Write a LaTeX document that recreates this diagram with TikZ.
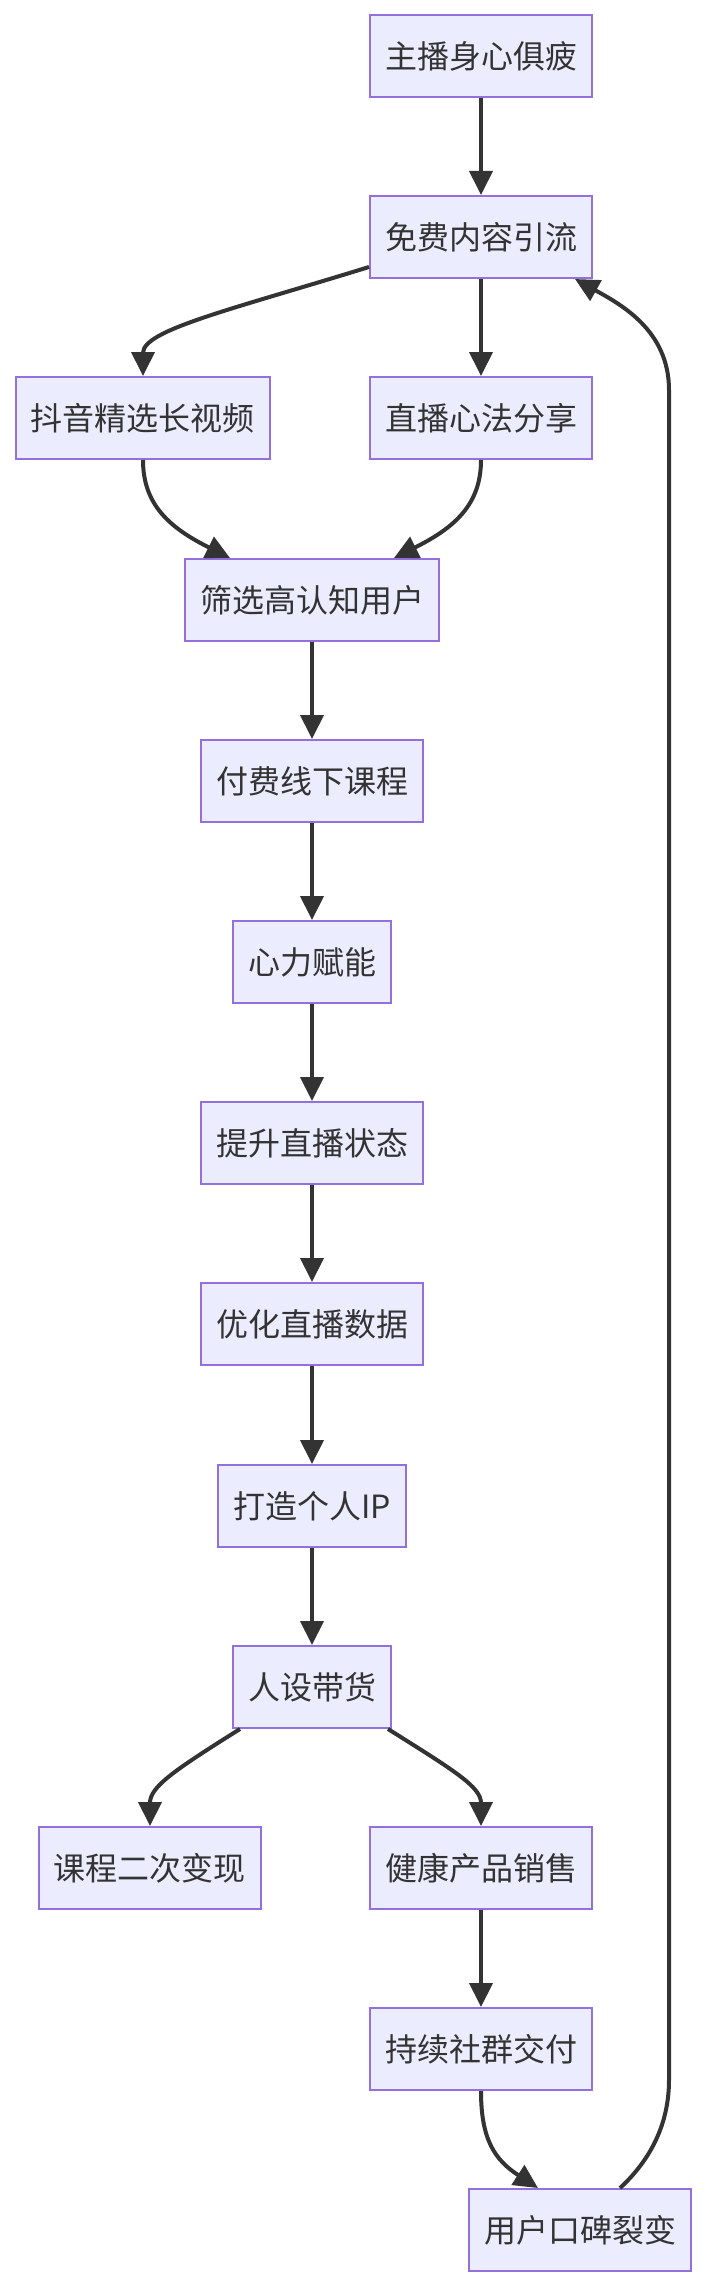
\documentclass[tikz,border=0pt]{standalone}
\usepackage{fontspec}
\setmainfont{Noto Sans CJK SC}
\usetikzlibrary{arrows.meta,calc}
\definecolor{boxfill}{HTML}{ECECFF}
\definecolor{boxline}{HTML}{9370DB}
\definecolor{link}{HTML}{333333}
\tikzset{box/.style={draw=boxline,fill=boxfill,line width=1pt,minimum height=41pt,inner xsep=7.5pt,inner ysep=0pt,text=link,font=\fontsize{16}{19}\selectfont},arrow/.style={-{Triangle[length=12pt,width=11.5pt]},line width=2pt,draw=link}}

\begin{document}
\begin{tikzpicture}[x=0.5pt,y=-0.5pt]
\useasboundingbox (0,0) rectangle (708,2290);
\node[box] (tired) at (481,56) {主播身心俱疲};
\node[box] (free) at (481,237) {免费内容引流};
\node[box] (douyin) at (143,418) {抖音精选长视频};
\node[box] (share) at (481,418) {直播心法分享};
\node[box] (filter) at (312,600) {筛选高认知用户};
\node[box] (course) at (312,781) {付费线下课程};
\node[box] (power) at (312,962) {心力赋能};
\node[box] (state) at (312,1143) {提升直播状态};
\node[box] (data) at (312,1324) {优化直播数据};
\node[box] (ip) at (312,1506) {打造个人IP};
\node[box] (sell) at (312,1687) {人设带货};
\node[box] (resale) at (150,1868) {课程二次变现};
\node[box] (health) at (481,1868) {健康产品销售};
\node[box] (group) at (481,2049) {持续社群交付};
\node[box] (fission) at (580,2230) {用户口碑裂变};
\foreach \a/\b in {tired/free,free/share,filter/course,course/power,power/state,state/data,data/ip,ip/sell,health/group}{\draw[arrow](\a)--(\b);}
\draw[arrow]($(free.west)+(0,30)$) .. controls (230,310) and (143,330) .. (douyin.north);
\draw[arrow](douyin.south) .. controls (143,505) and (170,528) .. ($(filter.north)+(-82,0)$);
\draw[arrow](share.south) .. controls (481,505) and (454,528) .. ($(filter.north)+(82,0)$);
\draw[arrow]($(sell.south)+(-72,0)$) .. controls (173,1771) and (150,1787) .. (resale.north);
\draw[arrow]($(sell.south)+(76,0)$) .. controls (455,1771) and (481,1787) .. (health.north);
\draw[arrow](group.south) .. controls (481,2140) and (495,2160) .. ($(fission.north)+(-42,0)$);
% feedback loop back to the top
\draw[arrow]($(fission.north)+(40,0)$) .. controls (645,2165) and (669,2130) .. (669,2080) -- (669,390) .. controls (669,330) and (620,304) .. ($(free.south)+(94,0)$);
\end{tikzpicture}
\end{document}
